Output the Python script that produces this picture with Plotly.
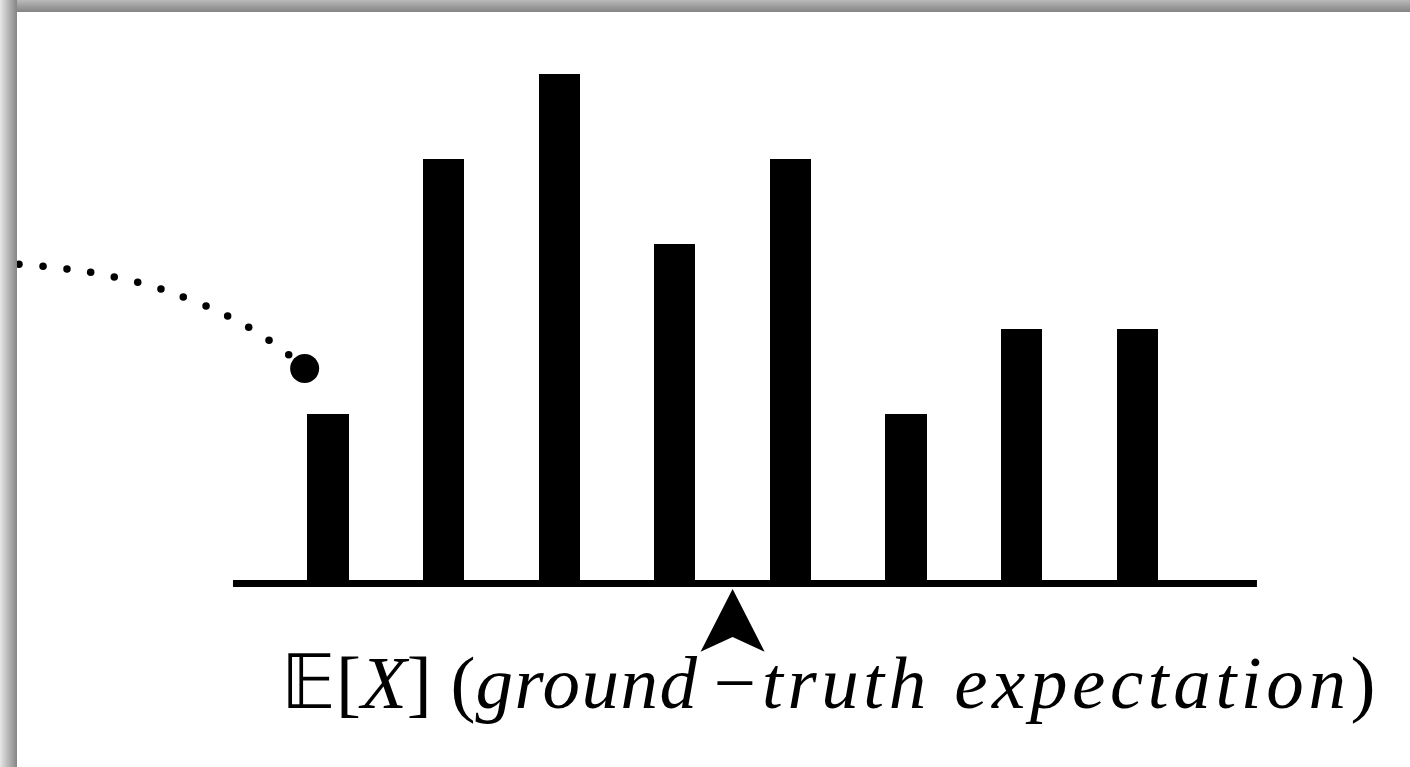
import plotly.graph_objects as go

# Discrete distribution: outcome index and its (unnormalised) mass
outcomes = [0, 1, 2, 3, 4, 5, 6, 7]
masses = [2, 5, 6, 4, 5, 2, 3, 3]

# Ground-truth expectation marker position on the outcome axis
expectation_x = 3.5

# Sampled trajectory approaching the first outcome (dotted path + end point)
path_x = [-2.673, -2.465, -2.258, -2.053, -1.849, -1.646, -1.445,
          -1.252, -1.055, -0.868, -0.686, -0.510, -0.340]
path_y = [3.760, 3.736, 3.704, 3.666, 3.610, 3.548, 3.469,
          3.375, 3.269, 3.151, 3.018, 2.865, 2.695]
end_x = [-0.202]
end_y = [2.532]

# Extent of the horizontal baseline
axis_start, axis_end = -0.822, 8.036

label_text = (
    "\U0001D53C[<i>X</i>] ("
    "<span style='letter-spacing:1.5px'><i>ground</i></span>"
    "\u2009\u2212\u200a"
    "<span style='letter-spacing:4.6px'><i>truth expectation</i></span>)"
)

W, H = 1410, 767

fig = go.Figure()

fig.add_trace(go.Bar(
    x=outcomes, y=masses, width=0.355,
    marker=dict(color="black", line=dict(width=0)),
    showlegend=False, hoverinfo="skip",
))

fig.add_trace(go.Scatter(
    x=path_x, y=path_y, mode="markers",
    marker=dict(color="black", size=7.5),
    showlegend=False, hoverinfo="skip",
))
fig.add_trace(go.Scatter(
    x=end_x, y=end_y, mode="markers",
    marker=dict(color="black", size=29),
    showlegend=False, hoverinfo="skip",
))

shapes = []
# baseline
shapes.append(dict(type="line", xref="x", yref="y",
                   x0=axis_start, x1=axis_end, y0=0, y1=0,
                   line=dict(color="black", width=7)))

# arrowhead pointing up at the expectation
hw = 0.277
tip_y, base_y, notch_y = -0.065, -0.803, -0.630
arrow_path = (f"M {expectation_x},{tip_y} "
              f"L {expectation_x + hw},{base_y} "
              f"L {expectation_x},{notch_y} "
              f"L {expectation_x - hw},{base_y} Z")
shapes.append(dict(type="path", xref="x", yref="y", path=arrow_path,
                   fillcolor="black", line=dict(width=0)))

# drop-shadow bands along the top and left edges of the panel
left_w, top_h = 17, 12
for i in range(left_w):
    g = int(228 - (228 - 136) * i / (left_w - 1))
    shapes.append(dict(type="rect", xref="paper", yref="paper",
                       x0=i / W, x1=(i + 1) / W, y0=0, y1=1,
                       fillcolor=f"rgb({g},{g},{g})", line=dict(width=0),
                       layer="above"))
for j in range(top_h):
    g = int(184 - (184 - 134) * j / (top_h - 1))
    shapes.append(dict(type="rect", xref="paper", yref="paper",
                       x0=left_w / W, x1=1, y0=1 - j / H, y1=1 - (j + 1) / H,
                       fillcolor=f"rgb({g},{g},{g})", line=dict(width=0),
                       layer="above"))

# pixel-aligned axis ranges
px0, step = 328.0, 115.6
base_py, unit = 583.5, 84.9
x_lo = -px0 / step
x_hi = x_lo + W / step
y_hi = base_py / unit
y_lo = y_hi - H / unit

fig.update_layout(
    width=W, height=H,
    margin=dict(l=0, r=0, t=0, b=0),
    paper_bgcolor="white", plot_bgcolor="white",
    xaxis=dict(range=[x_lo, x_hi], visible=False, fixedrange=True),
    yaxis=dict(range=[y_lo, y_hi], visible=False, fixedrange=True),
    shapes=shapes,
    bargap=0,
    annotations=[dict(
        text=label_text, xref="paper", yref="paper",
        x=279 / W, y=1 - 682 / H, xanchor="left", yanchor="middle",
        showarrow=False,
        font=dict(family="Liberation Serif", size=75, color="black"),
    )],
)

fig.write_html("out.html")
